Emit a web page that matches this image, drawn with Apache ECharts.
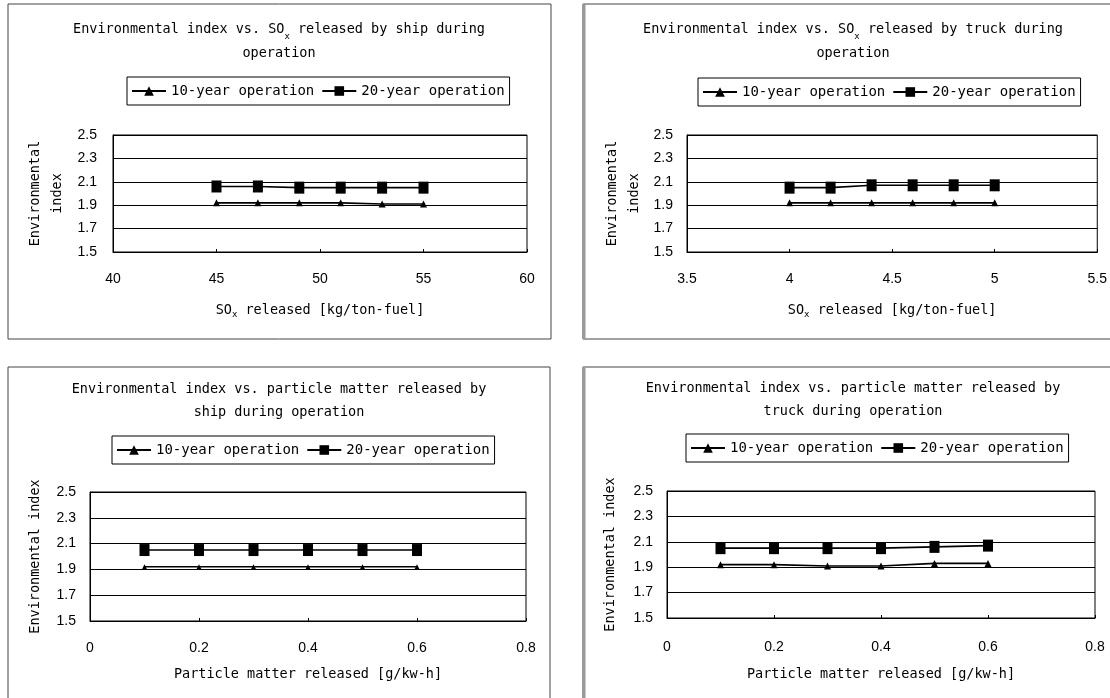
<!DOCTYPE html>
<html>
<head>
<meta charset="utf-8">
<script src="https://cdn.jsdelivr.net/npm/echarts@6/dist/echarts.min.js"></script>
<style>
html,body{margin:0;padding:0;background:#fff;}
#main{width:1110px;height:698px;}
</style>
</head>
<body>
<div id="main"></div>
<script>
// ---- data ----
var seriesNames = ['10-year operation', '20-year operation'];
var yTicks = ['1.5', '1.7', '1.9', '2.1', '2.3', '2.5'];

var shipSOxX = [45, 47, 49, 51, 53, 55];
var shipSOx10 = [1.92, 1.92, 1.92, 1.92, 1.91, 1.91];
var shipSOx20 = [2.06, 2.06, 2.05, 2.05, 2.05, 2.05];

var truckSOxX = [4.0, 4.2, 4.4, 4.6, 4.8, 5.0];
var truckSOx10 = [1.92, 1.92, 1.92, 1.92, 1.92, 1.92];
var truckSOx20 = [2.05, 2.05, 2.07, 2.07, 2.07, 2.07];

var shipPMX = [0.1, 0.2, 0.3, 0.4, 0.5, 0.6];
var shipPM10 = [1.92, 1.92, 1.92, 1.92, 1.92, 1.92];
var shipPM20 = [2.05, 2.05, 2.05, 2.05, 2.05, 2.05];

var truckPMX = [0.1, 0.2, 0.3, 0.4, 0.5, 0.6];
var truckPM10 = [1.92, 1.92, 1.91, 1.91, 1.93, 1.93];
var truckPM20 = [2.05, 2.05, 2.05, 2.05, 2.06, 2.07];

var titles = [
  'Environmental index vs. SO{sub|x} released by ship during\noperation',
  'Environmental index vs. SO{sub|x} released by truck during\noperation',
  'Environmental index vs. particle matter released by\nship during operation',
  'Environmental index vs. particle matter released by\ntruck during operation'
];
var xNames = [
  'SO{sub|x} released [kg/ton-fuel]',
  'SO{sub|x} released [kg/ton-fuel]',
  'Particle matter released [g/kw-h]',
  'Particle matter released [g/kw-h]'
];
var yNames = ['Environmental\nindex', 'Environmental\nindex', 'Environmental index', 'Environmental index'];
var xRanges = [[40, 60, 5], [3.5, 5.5, 0.5], [0, 0.8, 0.2], [0, 0.8, 0.2]];
var xLabelDigits = [0, 1, 1, 1];

// ---- layout ----
var MONO = '"DejaVu Sans Mono", monospace';
var NUM = '"Liberation Sans", Arial, sans-serif';
var grids = [
  {left: 113, top: 135, width: 414, height: 117},
  {left: 687, top: 135, width: 412, height: 117},
  {left: 90, top: 492, width: 436, height: 129},
  {left: 667, top: 491, width: 428, height: 127}
];
var titlePos = [
  {left: 279, top: 17, lh: 24},
  {left: 853, top: 17, lh: 24},
  {left: 279, top: 378, lh: 23},
  {left: 853, top: 377, lh: 23}
];
var legendPos = [
  {left: 127, top: 77},
  {left: 698, top: 78},
  {left: 112, top: 436},
  {left: 686, top: 434}
];
var xNameGap = [49, 49, 44, 47];
var xLabelMargin = [20, 20, 20, 22];
var yNameGap = [45, 42, 46, 48];
var yLabelMargin = [16, 14, 14, 14];
var yNameLH = [22, 22, 18, 18];

var subStyle = {fontSize: 9, fontFamily: MONO, color: '#000', verticalAlign: 'bottom', lineHeight: 12};

var title = [], legend = [], xAxis = [], yAxis = [], series = [];
for (var i = 0; i < 4; i++) {
  title.push({
    text: titles[i], left: titlePos[i].left, top: titlePos[i].top, textAlign: 'center', padding: 0,
    textStyle: {fontFamily: MONO, fontSize: 13.5, fontWeight: 'normal', color: '#000', lineHeight: titlePos[i].lh,
      rich: {sub: subStyle}}
  });
  legend.push({
    data: seriesNames, left: legendPos[i].left, top: legendPos[i].top, orient: 'horizontal',
    padding: [7, 5, 7, 4], itemGap: 7, itemWidth: 34, itemHeight: 12,
    borderColor: '#000', borderWidth: 1, backgroundColor: '#fff',
    textStyle: {fontFamily: MONO, fontSize: 14, color: '#000'}
  });
  xAxis.push({
    type: 'value', gridIndex: i, min: xRanges[i][0], max: xRanges[i][1], interval: xRanges[i][2],
    name: xNames[i], nameLocation: 'middle', nameGap: xNameGap[i],
    nameTextStyle: {fontFamily: MONO, fontSize: 13.5, color: '#000', lineHeight: 18, rich: {sub: subStyle}},
    axisLine: {show: true, lineStyle: {color: '#000', width: 1}},
    axisTick: {show: true, inside: true, length: 3, lineStyle: {color: '#000'}},
    axisLabel: {fontFamily: NUM, fontSize: 14, color: '#000', margin: xLabelMargin[i],
      formatter: (function (d) { return function (v) { return d === 0 ? String(Math.round(v)) : (v === 0 ? '0' : (Math.round(v * 10) / 10).toString()); }; })(xLabelDigits[i])},
    splitLine: {show: false}
  });
  yAxis.push({
    type: 'value', gridIndex: i, min: 1.5, max: 2.5, interval: 0.2,
    name: yNames[i], nameLocation: 'middle', nameGap: yNameGap[i], nameRotate: 90,
    nameTextStyle: {fontFamily: MONO, fontSize: 13.5, color: '#000', lineHeight: yNameLH[i], align: 'center'},
    axisLine: {show: true, lineStyle: {color: '#000', width: 1}},
    axisTick: {show: false},
    axisLabel: {fontFamily: NUM, fontSize: 14, color: '#000', margin: yLabelMargin[i],
      formatter: function (v) { return v.toFixed(1); }},
    splitLine: {show: true, lineStyle: {color: '#000', width: 1}}
  });
}
var data10 = [[shipSOxX, shipSOx10], [truckSOxX, truckSOx10], [shipPMX, shipPM10], [truckPMX, truckPM10]];
var data20 = [[shipSOxX, shipSOx20], [truckSOxX, truckSOx20], [shipPMX, shipPM20], [truckPMX, truckPM20]];
function pairs(xs, ys) { return xs.map(function (x, k) { return [x, ys[k]]; }); }
for (var j = 0; j < 4; j++) {
  series.push({
    name: seriesNames[0], type: 'line', xAxisIndex: j, yAxisIndex: j,
    data: pairs(data10[j][0], data10[j][1]),
    symbol: 'triangle', symbolSize: j === 2 ? 5 : 7,
    lineStyle: {color: '#000', width: 1.6}, itemStyle: {color: '#000'},
    emphasis: {disabled: true}, animation: false
  });
  series.push({
    name: seriesNames[1], type: 'line', xAxisIndex: j, yAxisIndex: j,
    data: pairs(data20[j][0], data20[j][1]),
    symbol: 'rect', symbolSize: [10, 12],
    lineStyle: {color: '#000', width: 1.6}, itemStyle: {color: '#000'},
    emphasis: {disabled: true}, animation: false
  });
}

var chart = echarts.init(document.getElementById('main'), null, {renderer: 'canvas'});
chart.setOption({
  backgroundColor: '#fff',
  animation: false,
  title: title,
  legend: legend,
  grid: grids.map(function (g) { return {left: g.left, top: g.top, width: g.width, height: g.height, show: true, borderColor: '#000', borderWidth: 1, backgroundColor: '#fff'}; }),
  xAxis: xAxis,
  yAxis: yAxis,
  series: series,
  graphic: [
    {type: 'rect', shape: {x: 8, y: 4, width: 543, height: 335}, style: {fill: 'none', stroke: '#444', lineWidth: 1}, z: -10, silent: true},
    {type: 'rect', shape: {x: 583, y: 4, width: 540, height: 335}, style: {fill: 'none', stroke: '#444', lineWidth: 1}, z: -10, silent: true},
    {type: 'rect', shape: {x: 8, y: 367, width: 542, height: 340}, style: {fill: 'none', stroke: '#444', lineWidth: 1}, z: -10, silent: true},
    {type: 'rect', shape: {x: 583, y: 367, width: 540, height: 340}, style: {fill: 'none', stroke: '#444', lineWidth: 1}, z: -10, silent: true},
    {type: 'line', shape: {x1: 584, y1: 4, x2: 584, y2: 339}, style: {stroke: '#999', lineWidth: 3}, z: -9, silent: true},
    {type: 'line', shape: {x1: 584, y1: 367, x2: 584, y2: 698}, style: {stroke: '#999', lineWidth: 3}, z: -9, silent: true}
  ]
});
</script>
</body>
</html>
